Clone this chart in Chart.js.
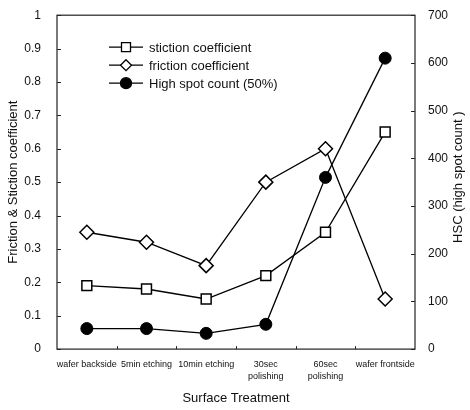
<!DOCTYPE html>
<html>
<head>
<meta charset="utf-8">
<script src="https://cdn.jsdelivr.net/npm/chart.js@4"></script>
<style>
  html, body { margin: 0; padding: 0; background: #fff; }
</style>
</head>
<body>
<canvas id="chart" width="470" height="410"></canvas>
<script>
const treatments = [
  ['wafer backside'], ['5min etching'], ['10min etching'],
  ['30sec', 'polishing'], ['60sec', 'polishing'], ['wafer frontside']
];
const stiction = [0.19, 0.18, 0.15, 0.22, 0.35, 0.65];
const friction = [0.35, 0.32, 0.25, 0.50, 0.60, 0.15];
const highSpot = [43, 43, 33, 52, 360, 610];

const leftTicks = [0, 0.1, 0.2, 0.3, 0.4, 0.5, 0.6, 0.7, 0.8, 0.9, 1];
const rightTicks = [0, 100, 200, 300, 400, 500, 600, 700];

const FONT = '"Liberation Sans", Arial, sans-serif';

// box, inward ticks, right title and the in-plot legend
const framePlugin = {
  id: 'frame',
  afterDraw(chart) {
    const { ctx, chartArea: a, scales } = chart;
    ctx.save();
    ctx.strokeStyle = '#222';
    ctx.lineWidth = 1.2;
    ctx.strokeRect(a.left, a.top, a.right - a.left, a.bottom - a.top);
    ctx.lineWidth = 1;
    leftTicks.forEach(v => {
      const y = Math.round(scales.y.getPixelForValue(v)) + 0.5;
      ctx.beginPath(); ctx.moveTo(a.left, y); ctx.lineTo(a.left + 4, y); ctx.stroke();
    });
    rightTicks.forEach(v => {
      const y = Math.round(scales.y2.getPixelForValue(v)) + 0.5;
      ctx.beginPath(); ctx.moveTo(a.right, y); ctx.lineTo(a.right - 4, y); ctx.stroke();
    });
    for (let i = 1; i < treatments.length; i++) {
      const x = Math.round((scales.x.getPixelForValue(i - 1) + scales.x.getPixelForValue(i)) / 2) + 0.5;
      ctx.beginPath(); ctx.moveTo(x, a.bottom); ctx.lineTo(x, a.bottom - 3); ctx.stroke();
    }

    // right axis title, reading bottom to top
    ctx.save();
    ctx.translate(chart.width - 12, (a.top + a.bottom) / 2 - 5);
    ctx.rotate(-Math.PI / 2);
    ctx.fillStyle = '#111';
    ctx.font = '13px ' + FONT;
    ctx.textAlign = 'center';
    ctx.textBaseline = 'middle';
    ctx.fillText('HSC (high spot count )', 0, 0);
    ctx.restore();

    // legend
    const lx = a.left + 52, ly = a.top + 32, gap = 18;
    chart.data.datasets.forEach((ds, i) => {
      const y = ly + i * gap;
      ctx.strokeStyle = '#000';
      ctx.lineWidth = 1.3;
      ctx.beginPath(); ctx.moveTo(lx, y); ctx.lineTo(lx + 34, y); ctx.stroke();
      ctx.fillStyle = ds.pointBackgroundColor;
      ctx.beginPath();
      const cx = lx + 17, r = ds.legendR;
      if (ds.pointStyle === 'rect') {
        ctx.rect(cx - r, y - r, 2 * r, 2 * r);
      } else if (ds.pointStyle === 'rectRot') {
        ctx.moveTo(cx, y - r); ctx.lineTo(cx + r, y); ctx.lineTo(cx, y + r); ctx.lineTo(cx - r, y); ctx.closePath();
      } else {
        ctx.arc(cx, y, r, 0, Math.PI * 2);
      }
      ctx.fill(); ctx.stroke();
      ctx.fillStyle = '#111';
      ctx.font = '13px ' + FONT;
      ctx.textBaseline = 'middle';
      ctx.fillText(ds.label, lx + 40, y + 1);
    });
    ctx.restore();
  }
};

new Chart(document.getElementById('chart'), {
  type: 'line',
  data: {
    labels: treatments,
    datasets: [
      {
        label: 'stiction coefficient', data: stiction, yAxisID: 'y',
        borderColor: '#000', borderWidth: 1.3,
        pointStyle: 'rect', pointRadius: 7, pointBorderWidth: 1.5,
        pointBackgroundColor: '#fff', pointBorderColor: '#000', legendR: 4.5
      },
      {
        label: 'friction coefficient', data: friction, yAxisID: 'y',
        borderColor: '#000', borderWidth: 1.3,
        pointStyle: 'rectRot', pointRadius: 7, pointBorderWidth: 1.5,
        pointBackgroundColor: '#fff', pointBorderColor: '#000', legendR: 5.5
      },
      {
        label: 'High spot count (50%)', data: highSpot, yAxisID: 'y2',
        borderColor: '#000', borderWidth: 1.3,
        pointStyle: 'circle', pointRadius: 6, pointBorderWidth: 1,
        pointBackgroundColor: '#000', pointBorderColor: '#000', legendR: 5.5
      }
    ]
  },
  options: {
    responsive: false,
    animation: false,
    layout: { padding: { top: 1, right: 0, left: 0, bottom: 0 } },
    plugins: { legend: { display: false }, tooltip: { enabled: false } },
    scales: {
      x: {
        offset: true,
        grid: { display: false },
        border: { display: false },
        ticks: { color: '#111', font: { family: FONT, size: 9, lineHeight: 1.35 }, maxRotation: 0, autoSkip: false, padding: 1 },
        title: { display: true, text: 'Surface Treatment', color: '#111', font: { family: FONT, size: 13 }, padding: { top: 7, bottom: 4 } }
      },
      y: {
        position: 'left', min: 0, max: 1,
        afterBuildTicks: s => { s.ticks = leftTicks.map(v => ({ value: v })); },
        grid: { display: false },
        border: { display: false },
        ticks: { color: '#111', font: { family: FONT, size: 12 }, padding: 8, callback: v => String(v) },
        title: { display: true, text: 'Friction & Stiction coefficient', color: '#111', font: { family: FONT, size: 13 }, padding: { top: 6, bottom: 0 } },
        afterFit: s => { s.width = 57; }
      },
      y2: {
        position: 'right', min: 0, max: 700,
        afterBuildTicks: s => { s.ticks = rightTicks.map(v => ({ value: v })); },
        grid: { display: false },
        border: { display: false },
        ticks: { color: '#111', font: { family: FONT, size: 12 }, padding: 5 },
        afterFit: s => { s.width = 55; }
      }
    }
  },
  plugins: [framePlugin]
});
</script>
</body>
</html>
